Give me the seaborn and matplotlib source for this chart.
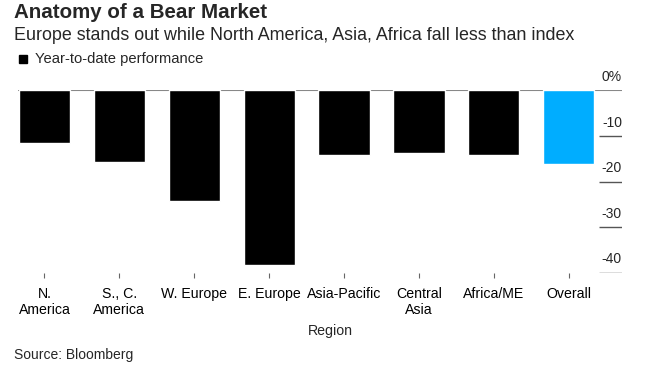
import matplotlib.pyplot as plt
import seaborn as sns
import pandas as pd
from matplotlib.patches import Rectangle

sns.set_style('white')
plt.rcParams['font.family'] = ['Liberation Sans', 'DejaVu Sans']

# data (year-to-date performance, %)
regions = ['N.\nAmerica', 'S., C.\nAmerica', 'W. Europe', 'E. Europe',
           'Asia-Pacific', 'Central\nAsia', 'Africa/ME', 'Overall']
ytd = [-11.6, -15.8, -24.3, -38.3, -14.1, -13.7, -14.1, -16.2]
bar_colors = ['#000000'] * 7 + ['#00adff']
yticks = [0, -10, -20, -30, -40]
ytick_labels = ['0%', '-10', '-20', '-30', '-40']

df = pd.DataFrame({'region': regions, 'ytd': ytd})

fig = plt.figure(figsize=(6.63, 3.69), dpi=100)
ax = fig.add_axes([0.027, 0.261, 0.911, 0.494])

sns.barplot(data=df, x='region', y='ytd', hue='region', palette=bar_colors,
            legend=False, width=0.685, saturation=1, ax=ax)

ax.set_xlim(-0.355, 7.71)
ax.set_ylim(-40, 0)
for s in ax.spines.values():
    s.set_visible(False)
ax.set_yticks([])
ax.set_ylabel('')
ax.set_xlabel('')
ax.set_xticks(range(len(regions)))
ax.set_xticklabels(regions, fontsize=10.2, color='black', linespacing=1.25)
ax.tick_params(axis='x', length=3.5, width=0.8, color='#666666', pad=6.5, bottom=True)

# zero line and short right-side gridlines with labels above them
ax.axhline(0, color='#888888', lw=1.5, zorder=0)
ax.hlines(yticks[1:], 7.40, 7.71, color='#555555', lw=1)
for v, lab in zip(yticks, ytick_labels):
    ax.text(7.71, v + 2.9, lab, ha='right', va='center', fontsize=10, clip_on=False)

fig.text(14 / 663, 1 - 12 / 369, 'Anatomy of a Bear Market', fontsize=14.8,
         fontweight='bold', va='center', ha='left')
fig.text(14 / 663, 1 - 35 / 369,
         'Europe stands out while North America, Asia, Africa fall less than index',
         fontsize=12.9, va='center', ha='left')
fig.add_artist(Rectangle((19 / 663, 1 - 63 / 369), 8 / 663, 8 / 369,
                         transform=fig.transFigure, color='black'))
fig.text(35 / 663, 1 - 59.5 / 369, 'Year-to-date performance', fontsize=10.6,
         va='center', ha='left')
fig.text(330 / 663, 1 - 331 / 369, 'Region', fontsize=10.2, va='center', ha='center')
fig.text(14 / 663, 1 - 355 / 369, 'Source: Bloomberg', fontsize=10, va='center', ha='left')

fig.savefig('out.png', dpi=100)
